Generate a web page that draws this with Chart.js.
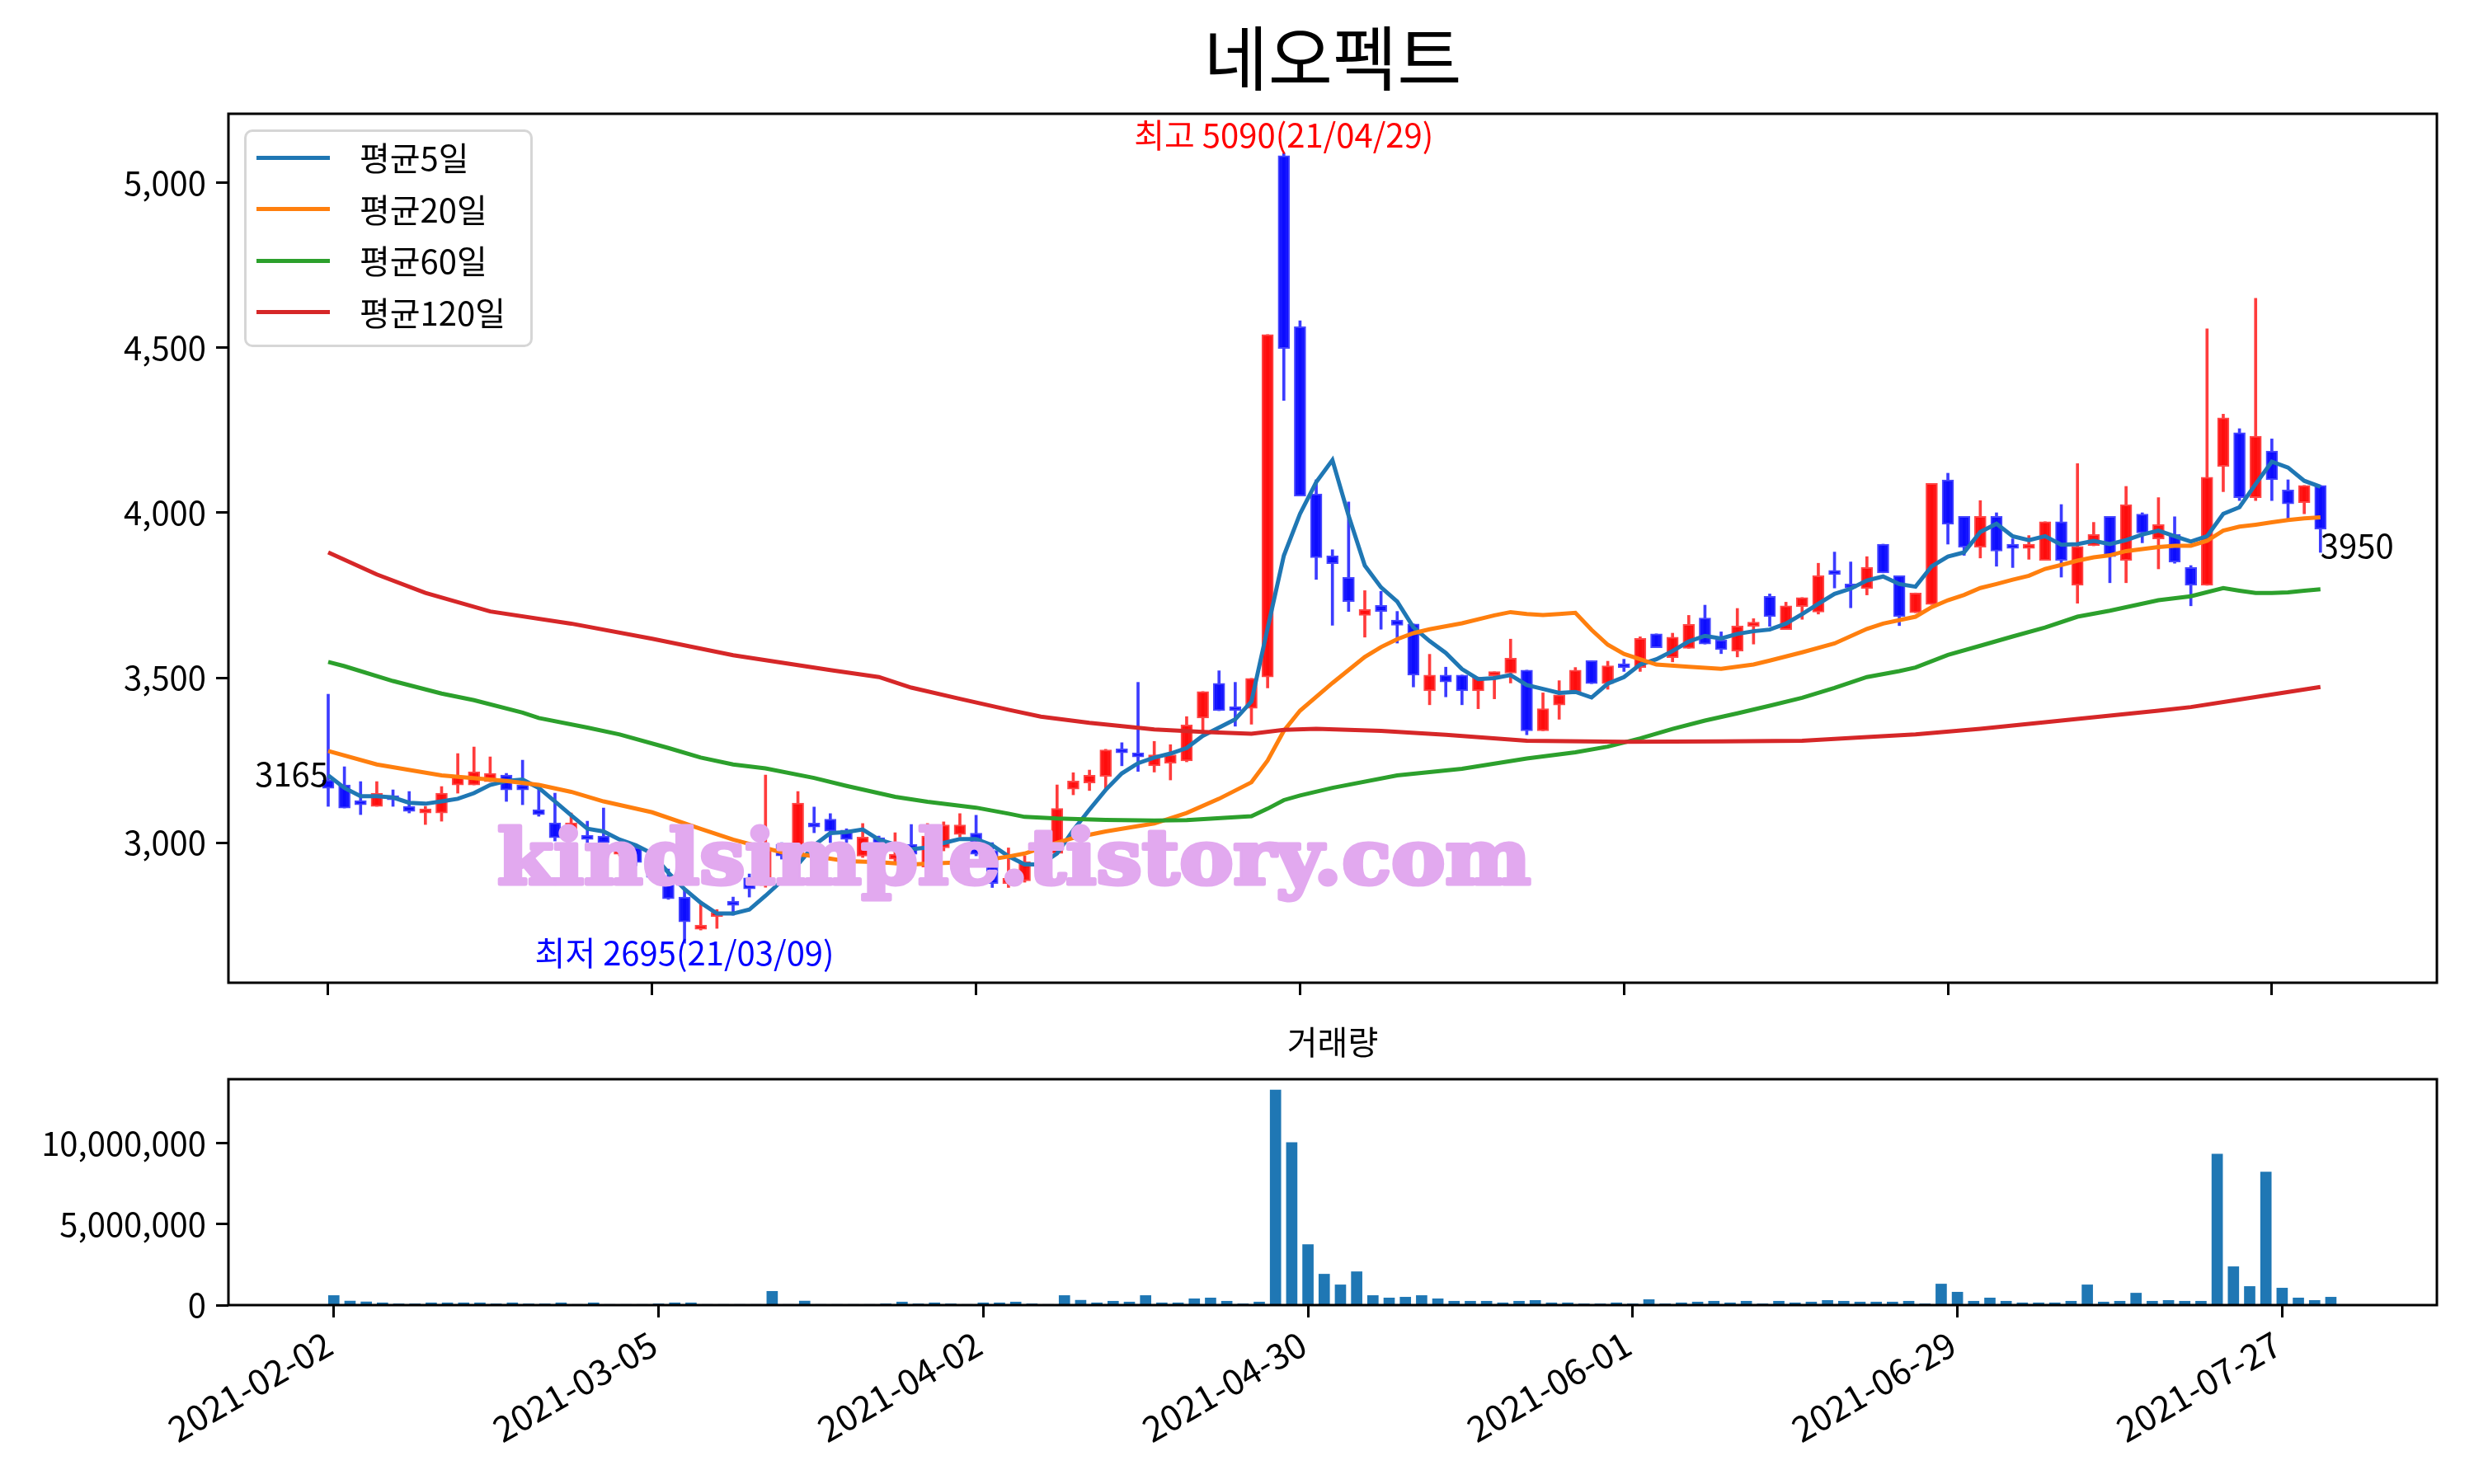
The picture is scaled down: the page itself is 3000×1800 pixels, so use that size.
<!DOCTYPE html>
<html>
<head>
<meta charset="utf-8">
<title>네오펙트</title>
<script src="https://cdn.jsdelivr.net/npm/chart.js@4.4.1/dist/chart.umd.min.js"></script>
<style>
  html, body { margin: 0; padding: 0; background: #fff; }
  body { width: 3000px; height: 1800px; position: relative; overflow: hidden; font-family: "Noto Sans CJK KR", sans-serif; }
  canvas { position: absolute; left: 0; }
  #priceChart { top: 0; }
  #volumeChart { top: 1240px; }
  #legend { position: absolute; left: 296px; top: 157px; width: 350px; height: 264px; box-sizing: border-box;
            border: 3px solid #d6d6d6; border-radius: 10px; background: rgba(255,255,255,0.8); }
  .swatch { position: absolute; left: 12px; width: 89px; height: 5px; }
  .label { position: absolute; left: 137px; font-size: 40px; line-height: 40px; white-space: nowrap; color: #000; }
</style>
</head>
<body>
<canvas id="priceChart" width="3000" height="1240"></canvas>
<canvas id="volumeChart" width="3000" height="560"></canvas>
<div id="legend"></div>
<script>
// ---- texts ----
var chartTitle = '네오펙트'
var volumeTitle = '거래량'
var watermark = 'kindsimple.tistory.com'
var highDate = '21/04/29'
var lowDate = '21/03/09'

// ---- axis ticks (trading day index -> date) ----
var tickIdx = [0, 20, 40, 60, 80, 100, 120]
var tickDates = ['2021-02-02', '2021-03-05', '2021-04-02', '2021-04-30', '2021-06-01', '2021-06-29', '2021-07-27']
var priceTicks = [3000, 3500, 4000, 4500, 5000]
var volumeTicks = [0, 5000000, 10000000]

// ---- daily candles, 2021-02-02 .. 2021-07-30 ----
var opens = [3190,3175,3120,3110,3135,3110,3090,3090,3175,3175, 3185,3205,3175,3100,3060,3020,3015,3020,2965,2985,
  2950,2885,2835,2737,2776,2815,2893,2870,2995,2955, 3053,3071,3038,2959,3015,2950,2995,2926,2984,3025,
  3029,2976,2876,2884,2940,2967,3162,3181,3201,3279, 3266,3233,3241,3248,3378,3483,3406,3407,3502,5083,
  4564,4057,3870,3804,3689,3719,3675,3663,3460,3508, 3508,3460,3506,3514,3523,3339,3417,3457,3552,3482,
  3535,3531,3633,3561,3589,3681,3614,3581,3656,3747, 3646,3716,3699,3823,3775,3770,3905,3809,3697,3722,
  4100,3989,3896,3989,3898,3892,3856,3973,3780,3900, 3989,3856,3996,3921,3934,3834,3780,4141,4243,4046,
  4187,4069,4031,4083]
var highs = [3450,3230,3185,3185,3160,3155,3110,3170,3270,3290, 3260,3210,3250,3165,3150,3090,3065,3105,2995,2995,
  2960,2920,2860,2822,2797,2835,2905,3205,3000,3155, 3108,3088,3042,3058,3020,3030,3055,3058,3063,3088,
  3083,3000,2984,2960,3010,3175,3212,3220,3283,3303, 3486,3307,3297,3382,3458,3521,3486,3498,4540,5090,
  4582,4100,3888,4033,3764,3762,3701,3663,3571,3532, 3508,3502,3518,3617,3523,3454,3491,3531,3552,3550,
  3556,3624,3633,3635,3689,3720,3639,3710,3679,3754, 3729,3743,3847,3881,3851,3867,3905,3809,3757,4089,
  4120,3989,4037,4000,3921,3931,3973,4025,4149,3971, 3989,4080,4000,4046,3988,3840,4558,4299,4255,4650,
  4224,4100,4083,4083]
var lows = [3110,3105,3085,3110,3110,3090,3055,3065,3150,3175, 3185,3125,3115,3080,3005,3015,2985,2995,2960,2930,
  2885,2828,2695,2735,2740,2780,2835,2865,2950,2945, 3030,3000,3000,2955,2935,2940,2960,2926,2975,3017,
  2960,2864,2864,2880,2935,2967,3145,3158,3162,3233, 3216,3214,3190,3245,3340,3400,3353,3359,3469,4341,
  4051,3798,3659,3701,3623,3647,3605,3472,3418,3442, 3418,3406,3436,3484,3327,3339,3374,3457,3482,3465,
  3519,3519,3591,3548,3589,3602,3573,3563,3602,3656, 3646,3677,3693,3772,3712,3751,3818,3658,3697,3722,
  3905,3871,3863,3838,3834,3859,3856,3805,3726,3900, 3788,3788,3909,3830,3847,3718,3780,4064,4037,4037,
  4037,3983,3997,3880]
var closes = [3165,3105,3115,3150,3130,3095,3095,3150,3200,3215, 3210,3160,3160,3085,3015,3060,3010,3000,2985,2940,
  2895,2830,2760,2750,2785,2810,2860,2985,2960,3120, 3047,3035,3010,3017,2945,2965,2965,3020,3054,3054,
  2965,2876,2892,2942,3000,3104,3187,3204,3281,3272, 3260,3266,3266,3357,3458,3400,3400,3498,4540,4498,
  4051,3864,3846,3731,3707,3701,3659,3508,3508,3487, 3460,3502,3518,3559,3339,3406,3448,3523,3482,3536,
  3530,3619,3591,3623,3662,3602,3585,3657,3668,3685, 3718,3743,3809,3813,3772,3834,3818,3685,3757,4089,
  3965,3896,3989,3884,3892,3905,3973,3856,3898,3934, 3867,4025,3939,3964,3851,3780,4108,4288,4046,4232,
  4100,4027,4083,3950]
var volumes = [590000,250000,200000,140000,80000,80000,140000,140000,140000,140000,
  80000,140000,80000,80000,140000,40000,140000,40000,40000,40000,
  80000,140000,140000,40000,40000,40000,40000,850000,40000,250000,
  40000,40000,40000,40000,80000,190000,80000,140000,80000,40000,
  140000,140000,190000,80000,40000,590000,300000,140000,240000,190000,
  590000,140000,140000,390000,440000,240000,80000,190000,13280000,10030000,
  3740000,1910000,1250000,2060000,590000,440000,490000,590000,390000,240000,
  240000,240000,140000,240000,290000,140000,140000,80000,80000,140000,
  80000,340000,80000,140000,190000,240000,140000,240000,80000,240000,
  140000,190000,290000,240000,190000,190000,190000,240000,80000,1300000,
  800000,240000,440000,240000,140000,140000,140000,240000,1250000,190000,
  240000,740000,240000,290000,240000,240000,9320000,2370000,1150000,8210000,
  1050000,440000,290000,490000]

// ---- moving averages ----
var maNames = ['평균5일', '평균20일', '평균60일', '평균120일']
var maColors = ['#1f77b4', '#ff7f0e', '#2ca02c', '#d62728']
var ma5 = [3204,3166,3141,3141,3137,3121,3118,3125,3133,3150, 3175,3187,3191,3166,3125,3083,3042,3034,3009,2992,
  2967,2909,2859,2818,2785,2785,2797,2839,2884,2934, 2992,3029,3032,3040,3009,2994,2980,2985,2999,3011,
  3011,2992,2959,2934,2934,2967,3038,3100,3160,3210, 3241,3258,3270,3287,3324,3349,3374,3428,3650,3870,
  3997,4093,4160,3991,3840,3774,3731,3653,3611,3575, 3526,3496,3499,3508,3478,3466,3454,3457,3440,3482,
  3502,3540,3556,3581,3610,3627,3619,3633,3641,3646, 3664,3693,3724,3754,3770,3795,3807,3784,3776,3838,
  3867,3880,3942,3967,3929,3917,3929,3903,3905,3915, 3905,3917,3934,3946,3929,3913,3929,3997,4017,4087,
  4155,4137,4097,4079]
var ma20Idx = [0,3,7,11,13,15,17,20,23,25, 26,28,30,32,34,36,38,40,42,43, 45,46,48,50,51,53,55,57,58,59,
  60,62,64,65,66,67,68,70,72,73, 74,75,76,77,78,79,80,82,84,86, 88,89,91,93,95,96,98,99,100,101,
  102,103,104,105,106,107,108,109,110,111, 112,113,114,115,116,117,118,119,120,121, 122,123]
var ma20 = [3278,3237,3204,3187,3175,3154,3125,3092,3042,3009, 2996,2971,2959,2944,2941,2934,2938,2942,2958,2967,
  3000,3014,3034,3050,3058,3090,3133,3183,3249,3339, 3400,3484,3563,3593,3617,3635,3647,3665,3689,3699,
  3693,3690,3693,3697,3645,3600,3572,3540,3533,3527, 3540,3552,3577,3604,3648,3664,3685,3714,3735,3751,
  3772,3784,3797,3809,3830,3842,3855,3865,3871,3884, 3890,3896,3900,3900,3915,3946,3958,3964,3971,3978,
  3983,3986]
var ma60Idx = [0,1,4,7,9,12,13,16,18,21, 23,25,27,30,32,35,37,40,42,43, 45,48,51,53,57,58,59,60,62,66,
  70,74,77,79,81,83,85,87,89,91, 93,95,97,98,100,102,104,106,108,110, 113,115,117,118,119,120,121,122,123]
var ma60 = [3548,3535,3490,3452,3432,3394,3378,3349,3328,3287, 3258,3237,3225,3196,3172,3139,3124,3106,3088,3078,
  3073,3069,3067,3068,3080,3103,3129,3143,3166,3204, 3224,3255,3274,3291,3316,3345,3370,3392,3415,3439,
  3469,3502,3520,3531,3569,3597,3625,3652,3685,3703, 3735,3747,3772,3764,3757,3757,3759,3764,3768]
var ma120Idx = [0,3,6,10,15,20,25,31,34,36, 39,42,44,47,49,51,54,57,59,61, 65,69,74,80,86,91,95,98,102,107,
  113,115,118,123]
var ma120 = [3880,3813,3757,3701,3664,3618,3568,3523,3502,3470, 3436,3403,3382,3363,3353,3343,3336,3330,3342,3345,
  3339,3327,3309,3306,3307,3309,3320,3328,3345,3370, 3400,3411,3434,3472]

// ---- common look ----
var FONT = '"Noto Sans CJK KR", "Noto Sans", sans-serif'
Chart.defaults.font.family = FONT
Chart.defaults.color = '#000'

var idx = closes.map((c, i) => i)
var isUp = closes.map((c, i) => c >= opens[i])
var bodyFill = isUp.map(u => u ? 'rgba(255,10,10,0.95)' : 'rgba(10,10,255,0.95)')
var bodyEdge = isUp.map(u => u ? 'rgba(255,70,70,1)' : 'rgba(70,70,255,1)')
var wickColor = isUp.map(u => u ? 'rgba(255,60,60,1)' : 'rgba(60,60,255,1)')

function pts(xs, ys) { return xs.map((x, k) => ({ x: x, y: ys[k] })) }
function comma(v) { return Number(v).toLocaleString('en-US') }

var tickGrid = { display: true, drawOnChartArea: false, drawTicks: true, tickLength: 15, tickWidth: 3, tickColor: '#000', offset: false }

// box around each plot area
var spinePlugin = {
  id: 'spines',
  afterDraw(chart) {
    var a = chart.chartArea, ctx = chart.ctx
    ctx.save()
    ctx.strokeStyle = '#000'
    ctx.lineWidth = 3
    ctx.strokeRect(a.left, a.top, a.right - a.left, a.bottom - a.top)
    ctx.restore()
  }
}

// high / low / first / last notes and the watermark
var notesPlugin = {
  id: 'notes',
  afterDatasetsDraw(chart) {
    var ctx = chart.ctx, xs = chart.scales.x, ys = chart.scales.y, a = chart.chartArea
    var hi = Math.max(...highs), hiAt = highs.indexOf(hi)
    var lo = Math.min(...lows), loAt = lows.indexOf(lo)
    var last = closes.length - 1
    ctx.save()
    ctx.font = '40px ' + FONT
    ctx.fillStyle = '#ff0000'
    ctx.textAlign = 'center'
    ctx.textBaseline = 'bottom'
    ctx.fillText('최고 ' + hi + '(' + highDate + ')', xs.getPixelForValue(hiAt), ys.getPixelForValue(hi) - 2)
    ctx.fillStyle = '#0000ff'
    ctx.textBaseline = 'top'
    ctx.fillText('최저 ' + lo + '(' + lowDate + ')', xs.getPixelForValue(loAt), ys.getPixelForValue(lo) - 8)
    ctx.fillStyle = '#000'
    ctx.textAlign = 'right'
    ctx.textBaseline = 'alphabetic'
    ctx.fillText(String(closes[0]), xs.getPixelForValue(0), ys.getPixelForValue(closes[0]) - 2)
    ctx.textAlign = 'left'
    ctx.textBaseline = 'top'
    ctx.fillText(String(closes[last]), xs.getPixelForValue(last), ys.getPixelForValue(closes[last]))

    // watermark, stretched to its width in the reference
    var w = a.right - a.left, h = a.bottom - a.top
    ctx.font = 'bold 92px "DejaVu Serif", serif'
    ctx.textAlign = 'left'
    ctx.textBaseline = 'alphabetic'
    var tw = ctx.measureText(watermark).width
    ctx.translate(a.left + 0.1217 * w, a.top + 0.886 * h)
    ctx.scale((0.468 * w) / tw, 1)
    ctx.fillStyle = '#e2a9ef'
    ctx.strokeStyle = '#e2a9ef'
    ctx.lineWidth = 5
    ctx.lineJoin = 'round'
    ctx.strokeText(watermark, 0, 0)
    ctx.fillText(watermark, 0, 0)
    ctx.restore()
  }
}

// ---- price chart ----
var pad = (Math.max(...highs) - Math.min(...lows)) * 0.05
var maLines = [ma5.map((v, i) => ({ x: i, y: v })), pts(ma20Idx, ma20), pts(ma60Idx, ma60), pts(ma120Idx, ma120)]

var datasets = maLines.map((d, k) => ({
  type: 'line',
  label: maNames[k],
  data: d,
  borderColor: maColors[k],
  borderWidth: 5,
  pointRadius: 0,
  tension: 0,
  order: 3 - k
}))
datasets.push({
  type: 'bar',
  label: 'body',
  data: idx.map(i => ({ x: i, y: [opens[i], closes[i]] })),
  backgroundColor: bodyFill,
  borderColor: bodyEdge,
  borderWidth: 2,
  borderSkipped: false,
  barThickness: 14,
  minBarLength: 5,
  grouped: false,
  order: 4
})
datasets.push({
  type: 'bar',
  label: 'wick',
  data: idx.map(i => ({ x: i, y: [lows[i], highs[i]] })),
  backgroundColor: wickColor,
  borderWidth: 0,
  barThickness: 3,
  grouped: false,
  order: 5
})

new Chart(document.getElementById('priceChart'), {
  type: 'bar',
  data: { datasets: datasets },
  options: {
    responsive: false,
    animation: false,
    devicePixelRatio: 1,
    layout: { padding: { left: 0, right: 45, top: 0, bottom: 0 } },
    plugins: {
      legend: { display: false },
      tooltip: { enabled: false },
      title: {
        display: true, text: chartTitle, fullSize: false, color: '#000',
        font: { size: 85, weight: 'normal', family: FONT },
        padding: { top: 20, bottom: 16 }
      }
    },
    scales: {
      x: {
        type: 'linear', min: -6.16, max: 130.19, offset: false,
        afterBuildTicks: s => { s.ticks = tickIdx.map(v => ({ value: v })) },
        ticks: { display: false },
        grid: tickGrid,
        border: { display: false },
        afterFit: s => { s.height = 48 }
      },
      y: {
        type: 'linear', min: Math.min(...lows) - pad, max: Math.max(...highs) + pad,
        afterBuildTicks: s => { s.ticks = priceTicks.map(v => ({ value: v })) },
        ticks: { font: { size: 40 }, padding: 12, callback: v => comma(v) },
        grid: tickGrid,
        border: { display: false },
        afterFit: s => { s.width = 277 }
      }
    }
  },
  plugins: [spinePlugin, notesPlugin]
})

// ---- volume chart ----
new Chart(document.getElementById('volumeChart'), {
  type: 'bar',
  data: {
    datasets: [{
      label: volumeTitle,
      data: idx.map(i => ({ x: i, y: volumes[i] })),
      backgroundColor: '#1f77b4',
      barThickness: 13,
      grouped: false
    }]
  },
  options: {
    responsive: false,
    animation: false,
    devicePixelRatio: 1,
    layout: { padding: { left: 0, right: 45, top: 0, bottom: 0 } },
    plugins: {
      legend: { display: false },
      tooltip: { enabled: false },
      title: {
        display: true, text: volumeTitle, fullSize: false, color: '#000',
        font: { size: 40, weight: 'normal', family: FONT },
        padding: { top: 0, bottom: 21 }
      }
    },
    scales: {
      x: {
        type: 'linear', min: -6.49, max: 129.53, offset: false,
        afterBuildTicks: s => { s.ticks = tickIdx.map(v => ({ value: v })) },
        ticks: {
          font: { size: 43 }, minRotation: 30, maxRotation: 30, autoSkip: false, padding: 6, labelOffset: -6,
          callback: v => tickDates[tickIdx.indexOf(v)]
        },
        grid: tickGrid,
        border: { display: false },
        afterFit: s => { s.height = 217 }
      },
      y: {
        type: 'linear', min: 0, max: Math.max(...volumes) * 1.05,
        afterBuildTicks: s => { s.ticks = volumeTicks.map(v => ({ value: v })) },
        ticks: { font: { size: 40 }, padding: 12, callback: v => comma(v) },
        grid: tickGrid,
        border: { display: false },
        afterFit: s => { s.width = 277 }
      }
    }
  },
  plugins: [spinePlugin]
})

// ---- legend box ----
var legendBox = document.getElementById('legend')
maNames.forEach((name, k) => {
  var mid = 31 + k * 62.5
  var sw = document.createElement('div')
  sw.className = 'swatch'
  sw.style.top = (mid - 2.5) + 'px'
  sw.style.background = maColors[k]
  legendBox.appendChild(sw)
  var lb = document.createElement('div')
  lb.className = 'label'
  lb.style.top = (mid - 21) + 'px'
  lb.textContent = name
  legendBox.appendChild(lb)
})
</script>
</body>
</html>
